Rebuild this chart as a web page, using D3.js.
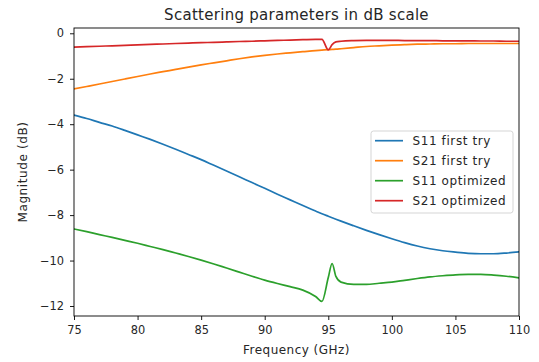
<!DOCTYPE html>
<html><head><meta charset="utf-8">
<script src="https://cdn.jsdelivr.net/npm/d3@7"></script>
<style>
body{margin:0;background:#fff;}
svg{display:block;font-family:"DejaVu Sans",sans-serif;}
</style></head>
<body>
<svg id="c" width="539" height="362"></svg>
<script>
const freq = [75,76,77,78,79,80,81,82,83,84,85,86,87,88,89,90,91,92,93,94,94.5,95,95.3,95.6,96,97,98,99,100,101,102,103,104,105,106,107,108,109,110];
const s11First = [-3.60,-3.75,-3.92,-4.08,-4.27,-4.47,-4.67,-4.88,-5.10,-5.33,-5.56,-5.81,-6.06,-6.31,-6.57,-6.82,-7.08,-7.33,-7.58,-7.82,-7.94,-8.05,-8.115,-8.18,-8.265,-8.47,-8.67,-8.86,-9.04,-9.21,-9.36,-9.48,-9.57,-9.63,-9.68,-9.70,-9.70,-9.67,-9.62];
const s21First = [-2.45,-2.34,-2.23,-2.12,-2.01,-1.90,-1.79,-1.69,-1.59,-1.49,-1.39,-1.30,-1.21,-1.12,-1.04,-0.97,-0.91,-0.86,-0.81,-0.76,-0.74,-0.72,-0.71,-0.70,-0.68,-0.63,-0.58,-0.55,-0.52,-0.50,-0.48,-0.47,-0.46,-0.46,-0.45,-0.45,-0.45,-0.45,-0.45];
const s11Opt = [-8.61,-8.73,-8.86,-8.98,-9.11,-9.24,-9.38,-9.52,-9.67,-9.82,-9.98,-10.15,-10.33,-10.51,-10.69,-10.86,-11.01,-11.15,-11.30,-11.58,-11.80,-10.75,-10.13,-10.70,-10.95,-11.05,-11.05,-11.00,-10.95,-10.87,-10.79,-10.72,-10.67,-10.63,-10.61,-10.61,-10.64,-10.69,-10.76];
const s21Opt = [-0.61,-0.59,-0.57,-0.55,-0.53,-0.51,-0.49,-0.47,-0.45,-0.43,-0.41,-0.40,-0.38,-0.36,-0.35,-0.33,-0.31,-0.30,-0.28,-0.27,-0.27,-0.73,-0.50,-0.38,-0.35,-0.32,-0.31,-0.31,-0.31,-0.32,-0.32,-0.32,-0.33,-0.33,-0.33,-0.34,-0.34,-0.35,-0.35];
const seriesNames = ["S11 first try","S21 first try","S11 optimized","S21 optimized"];
const seriesColors = ["#1f77b4","#ff7f0e","#2ca02c","#d62728"];
const xTicks = [75,80,85,90,95,100,105,110];
const yTicks = [0,-2,-4,-6,-8,-10,-12];
const titleText = "Scattering parameters in dB scale";
const xLabel = "Frequency (GHz)";
const yLabel = "Magnitude (dB)";

const allSeries = [s11First, s21First, s11Opt, s21Opt];
const L = 74, R = 519, T = 28, B = 316;
const svg = d3.select("#c");
const x = d3.scaleLinear().domain([75,110]).range([L,R]);
const y = d3.scaleLinear().domain([-12.44,0.233]).range([B,T]);
const fs = 11.4, lfs = 12;
const tc = "#262626";

svg.append("defs").append("clipPath").attr("id","clip")
  .append("rect").attr("x",L).attr("y",T).attr("width",R-L).attr("height",B-T);

const line = d3.line().x((d,i)=>x(freq[i])).y(d=>y(d)).curve(d3.curveMonotoneX);
const g = svg.append("g").attr("clip-path","url(#clip)");
allSeries.forEach((s,k)=>{
  g.append("path").attr("d",line(s)).attr("fill","none")
    .attr("stroke",seriesColors[k]).attr("stroke-width",1.7)
    .attr("stroke-linejoin","round").attr("stroke-linecap","square");
});

const fmt = v => (v<0 ? "\u2212"+Math.abs(v) : String(v));
const xa = svg.append("g").attr("transform",`translate(0,${B})`)
  .call(d3.axisBottom(x).tickValues(xTicks).tickFormat(fmt).tickSize(4).tickPadding(6));
const ya = svg.append("g").attr("transform",`translate(${L},0)`)
  .call(d3.axisLeft(y).tickValues(yTicks).tickFormat(fmt).tickSize(4).tickPadding(6));
[xa,ya].forEach(a=>{
  a.select(".domain").remove();
  a.selectAll("line").attr("stroke","#000").attr("stroke-width",0.9);
  a.selectAll("text").attr("font-family","DejaVu Sans").attr("font-size",fs).attr("fill",tc);
});
svg.append("rect").attr("x",L).attr("y",T).attr("width",R-L).attr("height",B-T)
  .attr("fill","none").attr("stroke","#000").attr("stroke-width",0.9);

svg.append("text").attr("x",(L+R)/2).attr("y",19.5).attr("text-anchor","middle")
  .attr("font-size",15).attr("letter-spacing",0.28).attr("fill",tc).text(titleText);
svg.append("text").attr("x",(L+R)/2).attr("y",354).attr("text-anchor","middle")
  .attr("font-size",lfs).attr("letter-spacing",0.47).attr("fill",tc).text(xLabel);
svg.append("text").attr("transform",`translate(27,${(T+B)/2}) rotate(-90)`).attr("text-anchor","middle")
  .attr("font-size",lfs).attr("letter-spacing",0.6).attr("fill",tc).text(yLabel);

const lg = svg.append("g");
lg.append("rect").attr("x",371).attr("y",131).attr("width",142).attr("height",82)
  .attr("rx",2.5).attr("fill","#fff").attr("fill-opacity",0.8).attr("stroke","#d0d0d0").attr("stroke-width",0.9);
seriesNames.forEach((n,k)=>{
  const cy = 140.7 + k*20;
  lg.append("line").attr("x1",375).attr("x2",403).attr("y1",cy).attr("y2",cy)
    .attr("stroke",seriesColors[k]).attr("stroke-width",1.7);
  lg.append("text").attr("x",412.5).attr("y",cy+4.4).attr("font-size",lfs).attr("letter-spacing",0.6)
    .attr("fill",tc).text(n);
});
</script>
</body></html>
